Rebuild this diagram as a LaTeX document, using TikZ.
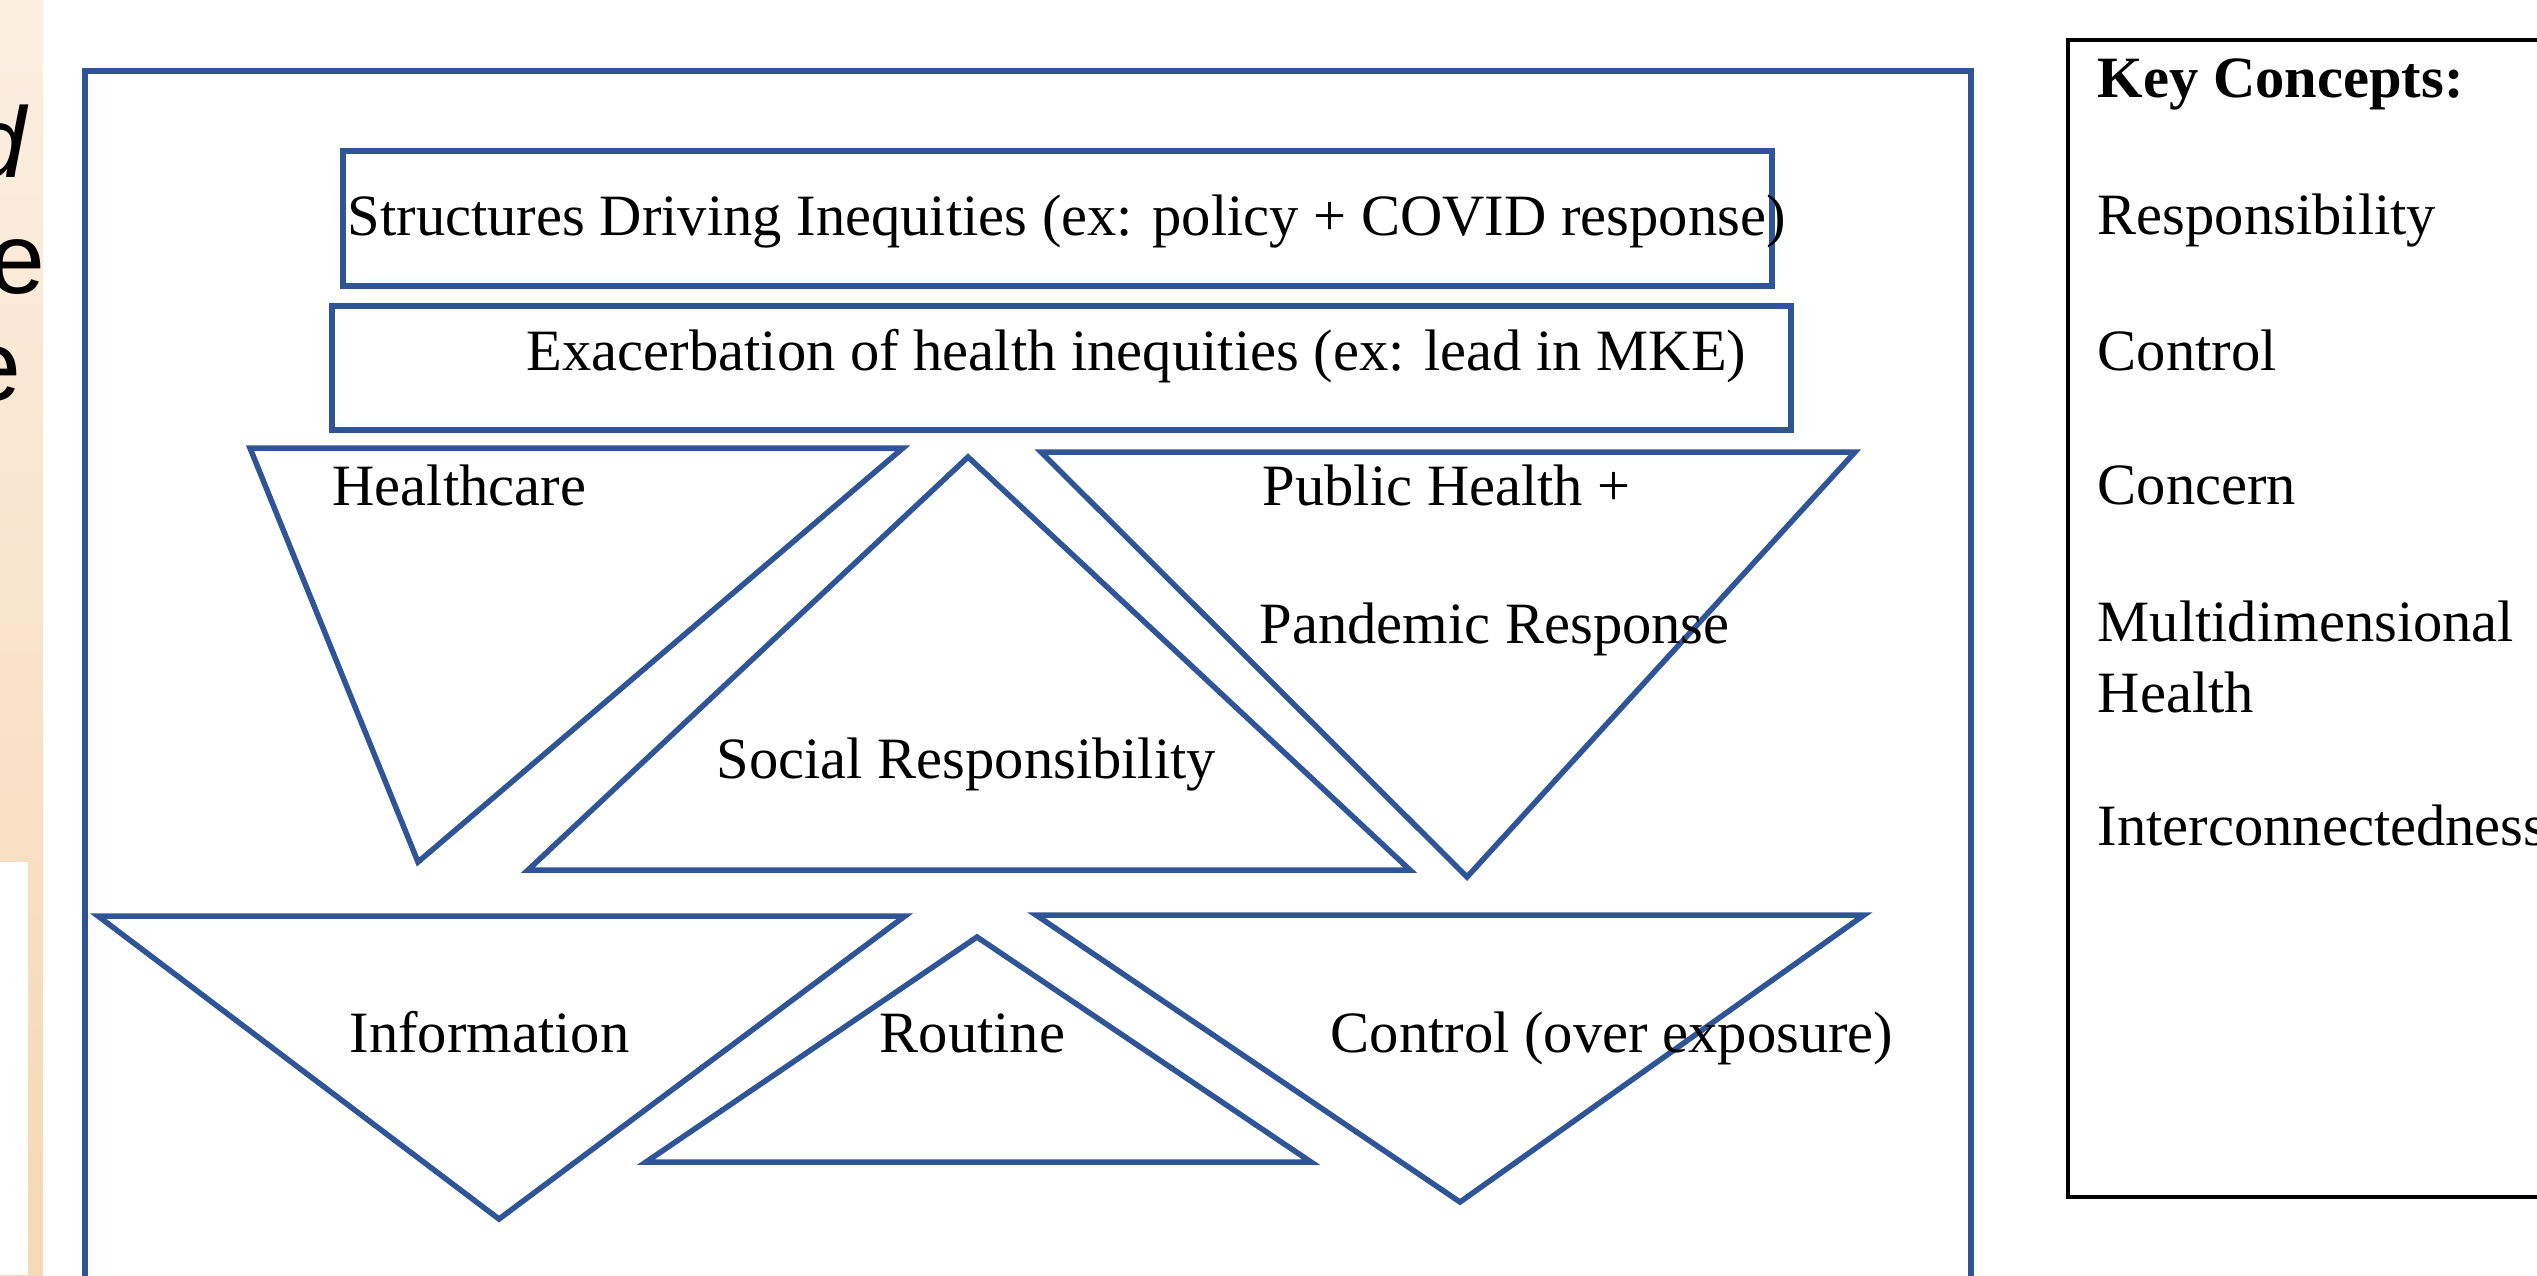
\documentclass[tikz,border=0pt]{standalone}
\usepackage{fontspec}
\setmainfont{Liberation Serif}
\newfontfamily\slidefont{Liberation Sans}
\usetikzlibrary{positioning}
\definecolor{frameblue}{RGB}{47,85,151}
\definecolor{sandtop}{RGB}{252,239,226}
\definecolor{sandbot}{RGB}{245,216,180}
\tikzstyle{blueline} = [draw=frameblue, line width=0.055cm]
\tikzstyle{keyline} = [draw=black, line width=0.035cm]
\tikzstyle{txt} = [anchor=base west, inner sep=0pt, font=\fontsize{16.65}{19.4}\selectfont]
\tikzstyle{side} = [anchor=base east, inner sep=0pt, font=\slidefont\fontsize{28.5}{33}\selectfont]

\begin{document}
\begin{tikzpicture}[x=0.01cm, y=-0.01cm]
    \useasboundingbox (0,0) rectangle (2537,1275);
    % Strip of the slide on the left
    \shade [top color=sandtop, bottom color=sandbot] (0,0) rectangle (43,1275);
    \fill [white] (0,862) rectangle (28,1275);
    \node [side] (sd) at (27,177) {\itshape d};
    \node [side] (se1) at (46,293) {e};
    \node [side] (se2) at (22,400) {e};
    % Frame and boxes
    \draw [blueline] (85,71) rectangle (1971,1320);
    \draw [blueline] (343,151) rectangle (1772,286);
    \draw [blueline] (332,306) rectangle (1791,430);
    % Upper row of triangles
    \draw [blueline] (250,448) -- (903,448) -- (418,862) -- cycle;
    \draw [blueline] (528,870) -- (968,457) -- (1410,870) -- cycle;
    \draw [blueline] (1041,452) -- (1855,452) -- (1467,877) -- cycle;
    % Lower row of triangles
    \draw [blueline] (98,916) -- (905,916) -- (499,1219) -- cycle;
    \draw [blueline] (646,1162) -- (977,937) -- (1311,1162) -- cycle;
    \draw [blueline] (1036,915) -- (1864,915) -- (1460,1202) -- cycle;
    % Place nodes
    \node [txt] (structures) at (347,235) {Structures Driving Inequities (ex: policy + COVID response)};
    \node [txt] (exacerb) at (526,370) {Exacerbation of health inequities (ex: lead in MKE)};
    \node [txt] (health) at (332,505) {Healthcare};
    \node [txt] (social) at (716,778) {Social Responsibility};
    \node [txt] (public) at (1262,505) {Public Health +};
    \node [txt] (pandemic) at (1259,643) {Pandemic Response};
    \node [txt] (info) at (349,1052) {Information};
    \node [txt] (routine) at (879,1052) {Routine};
    \node [txt] (control) at (1330,1052) {Control (over exposure)};
    % Key concepts box
    \draw [keyline] (2068,40) rectangle (2620,1197);
    \node [txt] (key) at (2097,97) {\textbf{Key Concepts:}};
    \node [txt, below=1.37cm of key.base west, anchor=base west] (resp) {Responsibility};
    \node [txt, below=1.36cm of resp.base west, anchor=base west] (ctrl) {Control};
    \node [txt, below=1.34cm of ctrl.base west, anchor=base west] (concern) {Concern};
    \node [txt, below=1.37cm of concern.base west, anchor=base west] (multi) {Multidimensional};
    \node [txt, below=0.71cm of multi.base west, anchor=base west] (mhealth) {Health};
    \node [txt, below=1.33cm of mhealth.base west, anchor=base west] (inter) {Interconnectedness};
\end{tikzpicture}
\end{document}
